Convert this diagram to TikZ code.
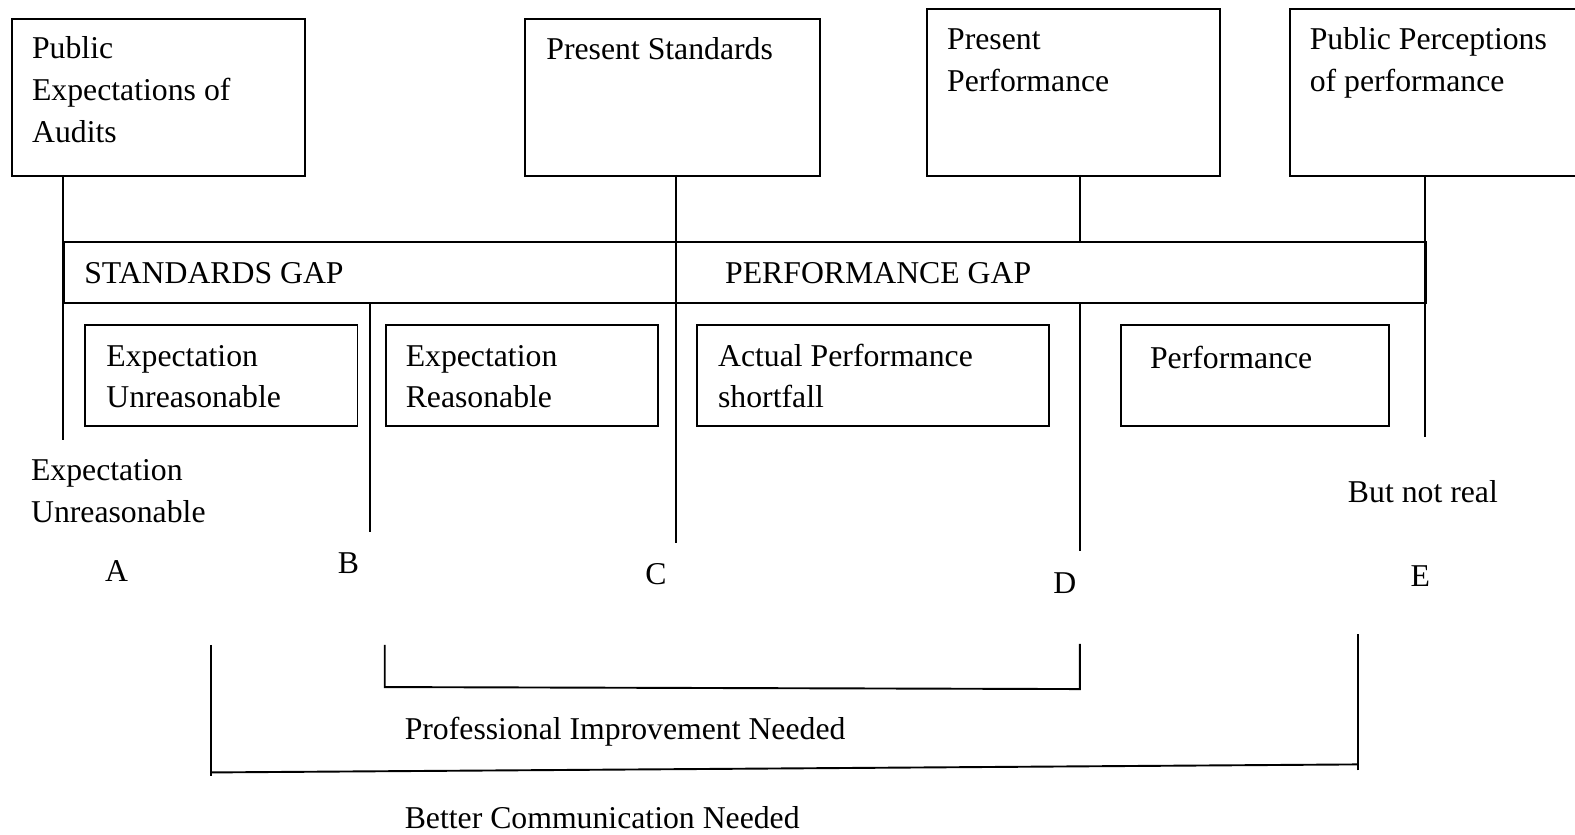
\documentclass[tikz,border=0pt]{standalone}
\usepackage{fontspec}
\setmainfont{Liberation Serif}
\begin{document}
\begin{tikzpicture}[x=0.5pt,y=-0.5pt,line width=0.95pt,
  box/.style={draw,line width=0.95pt,inner sep=0,anchor=north west},
  txt/.style={anchor=base west,inner sep=0,yshift=-0.7pt},
  lbl/.style={anchor=base,inner sep=0,yshift=-0.7pt},
  every node/.append style={font=\fontsize{15.8}{21}\selectfont}]
\useasboundingbox (0,0) rectangle (1568,831);
\clip (0,0) rectangle (1568,831);
% top boxes
\node[box,minimum width=146pt,minimum height=78pt] (b1) at (11,18) {};
\node[box,minimum width=146.5pt,minimum height=78pt] (b2) at (522,18) {};
\node[box,minimum width=146pt,minimum height=83pt] (b3) at (922,8) {};
\node[box,minimum width=160pt,minimum height=83pt] (b4) at (1283,8) {};
\node[txt] (t1a) at (31,57) {Public};
\node[txt] (t1b) at (31,99) {Expectations of};
\node[txt] (t1c) at (31,140) {Audits};
\node[txt] (t2a) at (543,58) {Present Standards};
\node[txt] (t3a) at (942,48) {Present};
\node[txt] (t3b) at (942,90) {Performance};
\node[txt] (t4a) at (1303,48) {Public Perceptions};
\node[txt] (t4b) at (1303,90) {of performance};
% gap band
\node[box,minimum width=678pt,minimum height=30.5pt] (band) at (63,240) {};
\node[txt] (sg) at (83,281) {STANDARDS GAP};
\node[txt] (pg) at (721,281) {PERFORMANCE GAP};
% inner boxes
\node[box,minimum width=135.5pt,minimum height=50pt] (ib1) at (84,323) {};
\node[box,minimum width=135.5pt,minimum height=50pt] (ib2) at (383,323) {};
\node[box,minimum width=175pt,minimum height=50pt] (ib3) at (693,323) {};
\node[box,minimum width=133.5pt,minimum height=50pt] (ib4) at (1115,323) {};
\node[txt] (i1a) at (105,363) {Expectation};
\node[txt] (i1b) at (105,404) {Unreasonable};
\node[txt] (i2a) at (403,363) {Expectation};
\node[txt] (i2b) at (403,404) {Reasonable};
\node[txt] (i3a) at (714,363) {Actual Performance};
\node[txt] (i3b) at (714,404) {shortfall};
\node[txt] (i4a) at (1144,365) {Performance};
% free texts
\node[txt] (eu1) at (30,477) {Expectation};
\node[txt] (eu2) at (30,519) {Unreasonable};
\node[txt] (bnr) at (1341,499) {But not real};
\node[lbl] (A) at (116,578) {A};
\node[lbl] (B) at (347,570) {B};
\node[lbl] (C) at (653,580) {C};
\node[lbl] (D) at (1060,589) {D};
\node[lbl] (E) at (1414,582) {E};
% vertical lines
\coordinate (a1) at (63,174);  \coordinate (a2) at (63,438);
\coordinate (c1) at (673,174); \coordinate (c2) at (673,541);
\coordinate (d1) at (1075,174); \coordinate (d2) at (1075,240);
\coordinate (d3) at (1075,301); \coordinate (d4) at (1075,549);
\coordinate (e1) at (1419,174); \coordinate (e2) at (1419,435);
\coordinate (bb1) at (368,301); \coordinate (bb2) at (368,530);
\draw (a1) -- (a2);
\draw (c1) -- (c2);
\draw (d1) -- (d2);
\draw (d3) -- (d4);
\draw (e1) -- (e2);
\draw (bb1) -- (bb2);
% brackets
\coordinate (p1) at (383,642); \coordinate (p2) at (383,684);
\coordinate (p3) at (1075,686); \coordinate (p4) at (1075,641);
\draw (p1) -- (p2) -- (p3) -- (p4);
\node[txt] (pin) at (402,735) {Professional Improvement Needed};
\coordinate (q1) at (210,642); \coordinate (q2) at (210,773);
\coordinate (q3) at (210,769); \coordinate (q4) at (1352,761);
\coordinate (q5) at (1352,767); \coordinate (q6) at (1352,631);
\draw (q1) -- (q2);
\draw (q3) -- (q4);
\draw (q5) -- (q6);
\node[txt] (bcn) at (402,823) {Better Communication Needed};
\end{tikzpicture}
\end{document}
